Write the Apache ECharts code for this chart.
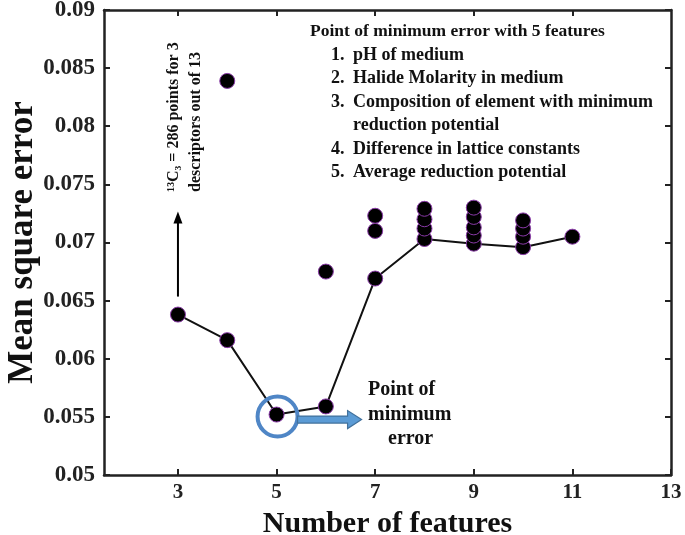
<!DOCTYPE html>
<html><head><meta charset="utf-8">
<script src="https://cdn.jsdelivr.net/npm/echarts@6/dist/echarts.min.js"></script>
<style>html,body{margin:0;padding:0;background:#fff}#c{width:685px;height:535px}</style>
</head><body><div id="c"></div>
<script>
const features = [3, 4, 5, 6, 7, 8, 9, 10, 11];
const minError = [0.0638, 0.0616, 0.0552, 0.0559, 0.0669, 0.0703, 0.0699, 0.0696, 0.0705];
const otherX = [4, 6, 7, 7, 8, 8, 8, 9, 9, 9, 9, 10, 10, 10];
const otherY = [0.0839, 0.0675, 0.0710, 0.0723, 0.0712, 0.0720, 0.0729, 0.0706, 0.0713, 0.0722, 0.0730, 0.0705, 0.0712, 0.0719];
const xTicks = [3, 5, 7, 9, 11, 13];
const yMin = 0.05, yMax = 0.09, yStep = 0.005;
const xMin = 1.5, xMax = 13;
const noteLines = ['Point of minimum error with 5 features', '1.', 'pH of medium', '2.', 'Halide Molarity in medium', '3.', 'Composition of element with minimum', 'reduction potential', '4.', 'Difference in lattice constants', '5.', 'Average reduction potential'];

const chart = echarts.init(document.getElementById('c'), null, {renderer: 'canvas'});
const FONT = '"Liberation Serif", "Times New Roman", serif';
const lineData = features.map((x, i) => [x, minError[i]]);
const pointData = lineData.concat(otherX.map((x, i) => [x, otherY[i]]));

const axisLineStyle = {color: '#222', width: 2.5};
chart.setOption({
  animation: false,
  grid: {left: 104, right: 14, top: 10, bottom: 60, containLabel: false, outerBoundsMode: 'none'},
  xAxis: [{
    type: 'value', min: xMin, max: xMax, position: 'bottom',
    splitLine: {show: false},
    axisLine: {lineStyle: axisLineStyle},
    axisTick: {inside: true, length: 6, lineStyle: {color: '#222', width: 2}, customValues: xTicks},
    axisLabel: {customValues: xTicks, fontFamily: FONT, fontWeight: 'bold', fontSize: 21, color: '#222', margin: 7},
    name: 'Number of features', nameLocation: 'middle', nameGap: 34,
    nameTextStyle: {fontFamily: FONT, fontWeight: 'bold', fontSize: 30, color: '#111'}
  }, {
    type: 'value', min: xMin, max: xMax, position: 'top',
    splitLine: {show: false},
    axisLine: {lineStyle: axisLineStyle},
    axisTick: {inside: true, length: 6, lineStyle: {color: '#222', width: 2}, customValues: xTicks.slice(0, 5)},
    axisLabel: {show: false}
  }],
  yAxis: [{
    type: 'value', min: yMin, max: yMax, interval: yStep, position: 'left',
    splitLine: {show: false},
    axisLine: {show: true, lineStyle: axisLineStyle},
    axisTick: {show: true, inside: true, length: 6, lineStyle: {color: '#222', width: 2}},
    axisLabel: {formatter: v => String(+v.toFixed(3)), fontFamily: FONT, fontWeight: 'bold', fontSize: 23, color: '#222', margin: 9},
    name: 'Mean square error', nameLocation: 'middle', nameGap: 64, nameRotate: 90, nameMoveOverlap: false,
    nameTextStyle: {fontFamily: FONT, fontWeight: 'bold', fontSize: 35, color: '#111'}
  }, {
    type: 'value', min: yMin, max: yMax, interval: yStep, position: 'right',
    splitLine: {show: false},
    axisLine: {show: true, lineStyle: axisLineStyle},
    axisTick: {show: true, inside: true, length: 6, lineStyle: {color: '#222', width: 2}},
    axisLabel: {show: false}
  }],
  series: [{
    type: 'line', data: lineData, showSymbol: false, symbol: 'none',
    lineStyle: {color: '#111', width: 2}, z: 2
  }, {
    type: 'scatter', data: pointData, symbol: 'circle', symbolSize: 15,
    itemStyle: {color: '#000', borderColor: '#8a3aa8', borderWidth: 1, opacity: 1}, z: 3
  }]
});

function px(x, y) { return chart.convertToPixel({xAxisIndex: 0, yAxisIndex: 0}, [x, y]); }
const p3 = px(features[0], minError[0]);
const p5 = px(features[2], minError[2]);
const graphics = [];

// vertical arrow above the x=3 point
graphics.push({type: 'line', shape: {x1: p3[0], y1: p3[1] - 18, x2: p3[0], y2: p3[1] - 94}, style: {stroke: '#000', lineWidth: 2}});
graphics.push({type: 'polygon', shape: {points: [[p3[0], p3[1] - 103], [p3[0] - 4.5, p3[1] - 91], [p3[0] + 4.5, p3[1] - 91]]}, style: {fill: '#000'}});
// rotated annotation
graphics.push({type: 'text', x: p3[0] - 4, y: 117, rotation: Math.PI / 2,
  style: {text: '\u00b9\u00b3C\u2083 = 286 points for 3', font: 'bold 16px ' + FONT, fill: '#111', align: 'center', verticalAlign: 'middle'}});
graphics.push({type: 'text', x: p3[0] + 18, y: 122, rotation: Math.PI / 2,
  style: {text: 'descriptors out of 13', font: 'bold 16px ' + FONT, fill: '#111', align: 'center', verticalAlign: 'middle'}});

// circle and block arrow at min error point
const cx = p5[0] + 1, cy = p5[1] + 2;
graphics.push({type: 'circle', shape: {cx: cx, cy: cy, r: 20}, style: {fill: 'none', stroke: '#4f86c6', lineWidth: 4}, z: 10});
const ay = cy + 3;
graphics.push({type: 'polygon', z: 10, shape: {points: [
  [cx + 20, ay - 3.5], [cx + 70, ay - 3.5], [cx + 70, ay - 9], [cx + 84, ay], [cx + 70, ay + 9], [cx + 70, ay + 3.5], [cx + 20, ay + 3.5]
]}, style: {fill: '#5b9bd5', stroke: '#41719c', lineWidth: 1.2}});
graphics.push({type: 'text', x: 368, y: 390, style: {text: 'Point of', font: 'bold 20px ' + FONT, fill: '#111', verticalAlign: 'middle'}});
graphics.push({type: 'text', x: 368, y: 415, style: {text: 'minimum', font: 'bold 20px ' + FONT, fill: '#111', verticalAlign: 'middle'}});
graphics.push({type: 'text', x: 388, y: 439, style: {text: 'error', font: 'bold 20px ' + FONT, fill: '#111', verticalAlign: 'middle'}});

// note block top right
const nf = 'bold 18px ' + FONT;
graphics.push({type: 'text', x: 310, y: 31, style: {text: noteLines[0], font: 'bold 17.5px ' + FONT, fill: '#111', verticalAlign: 'middle'}});
const rows = [[noteLines[1], noteLines[2], 55], [noteLines[3], noteLines[4], 78], [noteLines[5], noteLines[6], 102], ['', noteLines[7], 125], [noteLines[8], noteLines[9], 149], [noteLines[10], noteLines[11], 172]];
rows.forEach(r => {
  if (r[0]) graphics.push({type: 'text', x: 331, y: r[2], style: {text: r[0], font: nf, fill: '#111', verticalAlign: 'middle'}});
  graphics.push({type: 'text', x: 353, y: r[2], style: {text: r[1], font: nf, fill: '#111', verticalAlign: 'middle'}});
});
chart.setOption({graphic: graphics});
</script>
</body></html>
